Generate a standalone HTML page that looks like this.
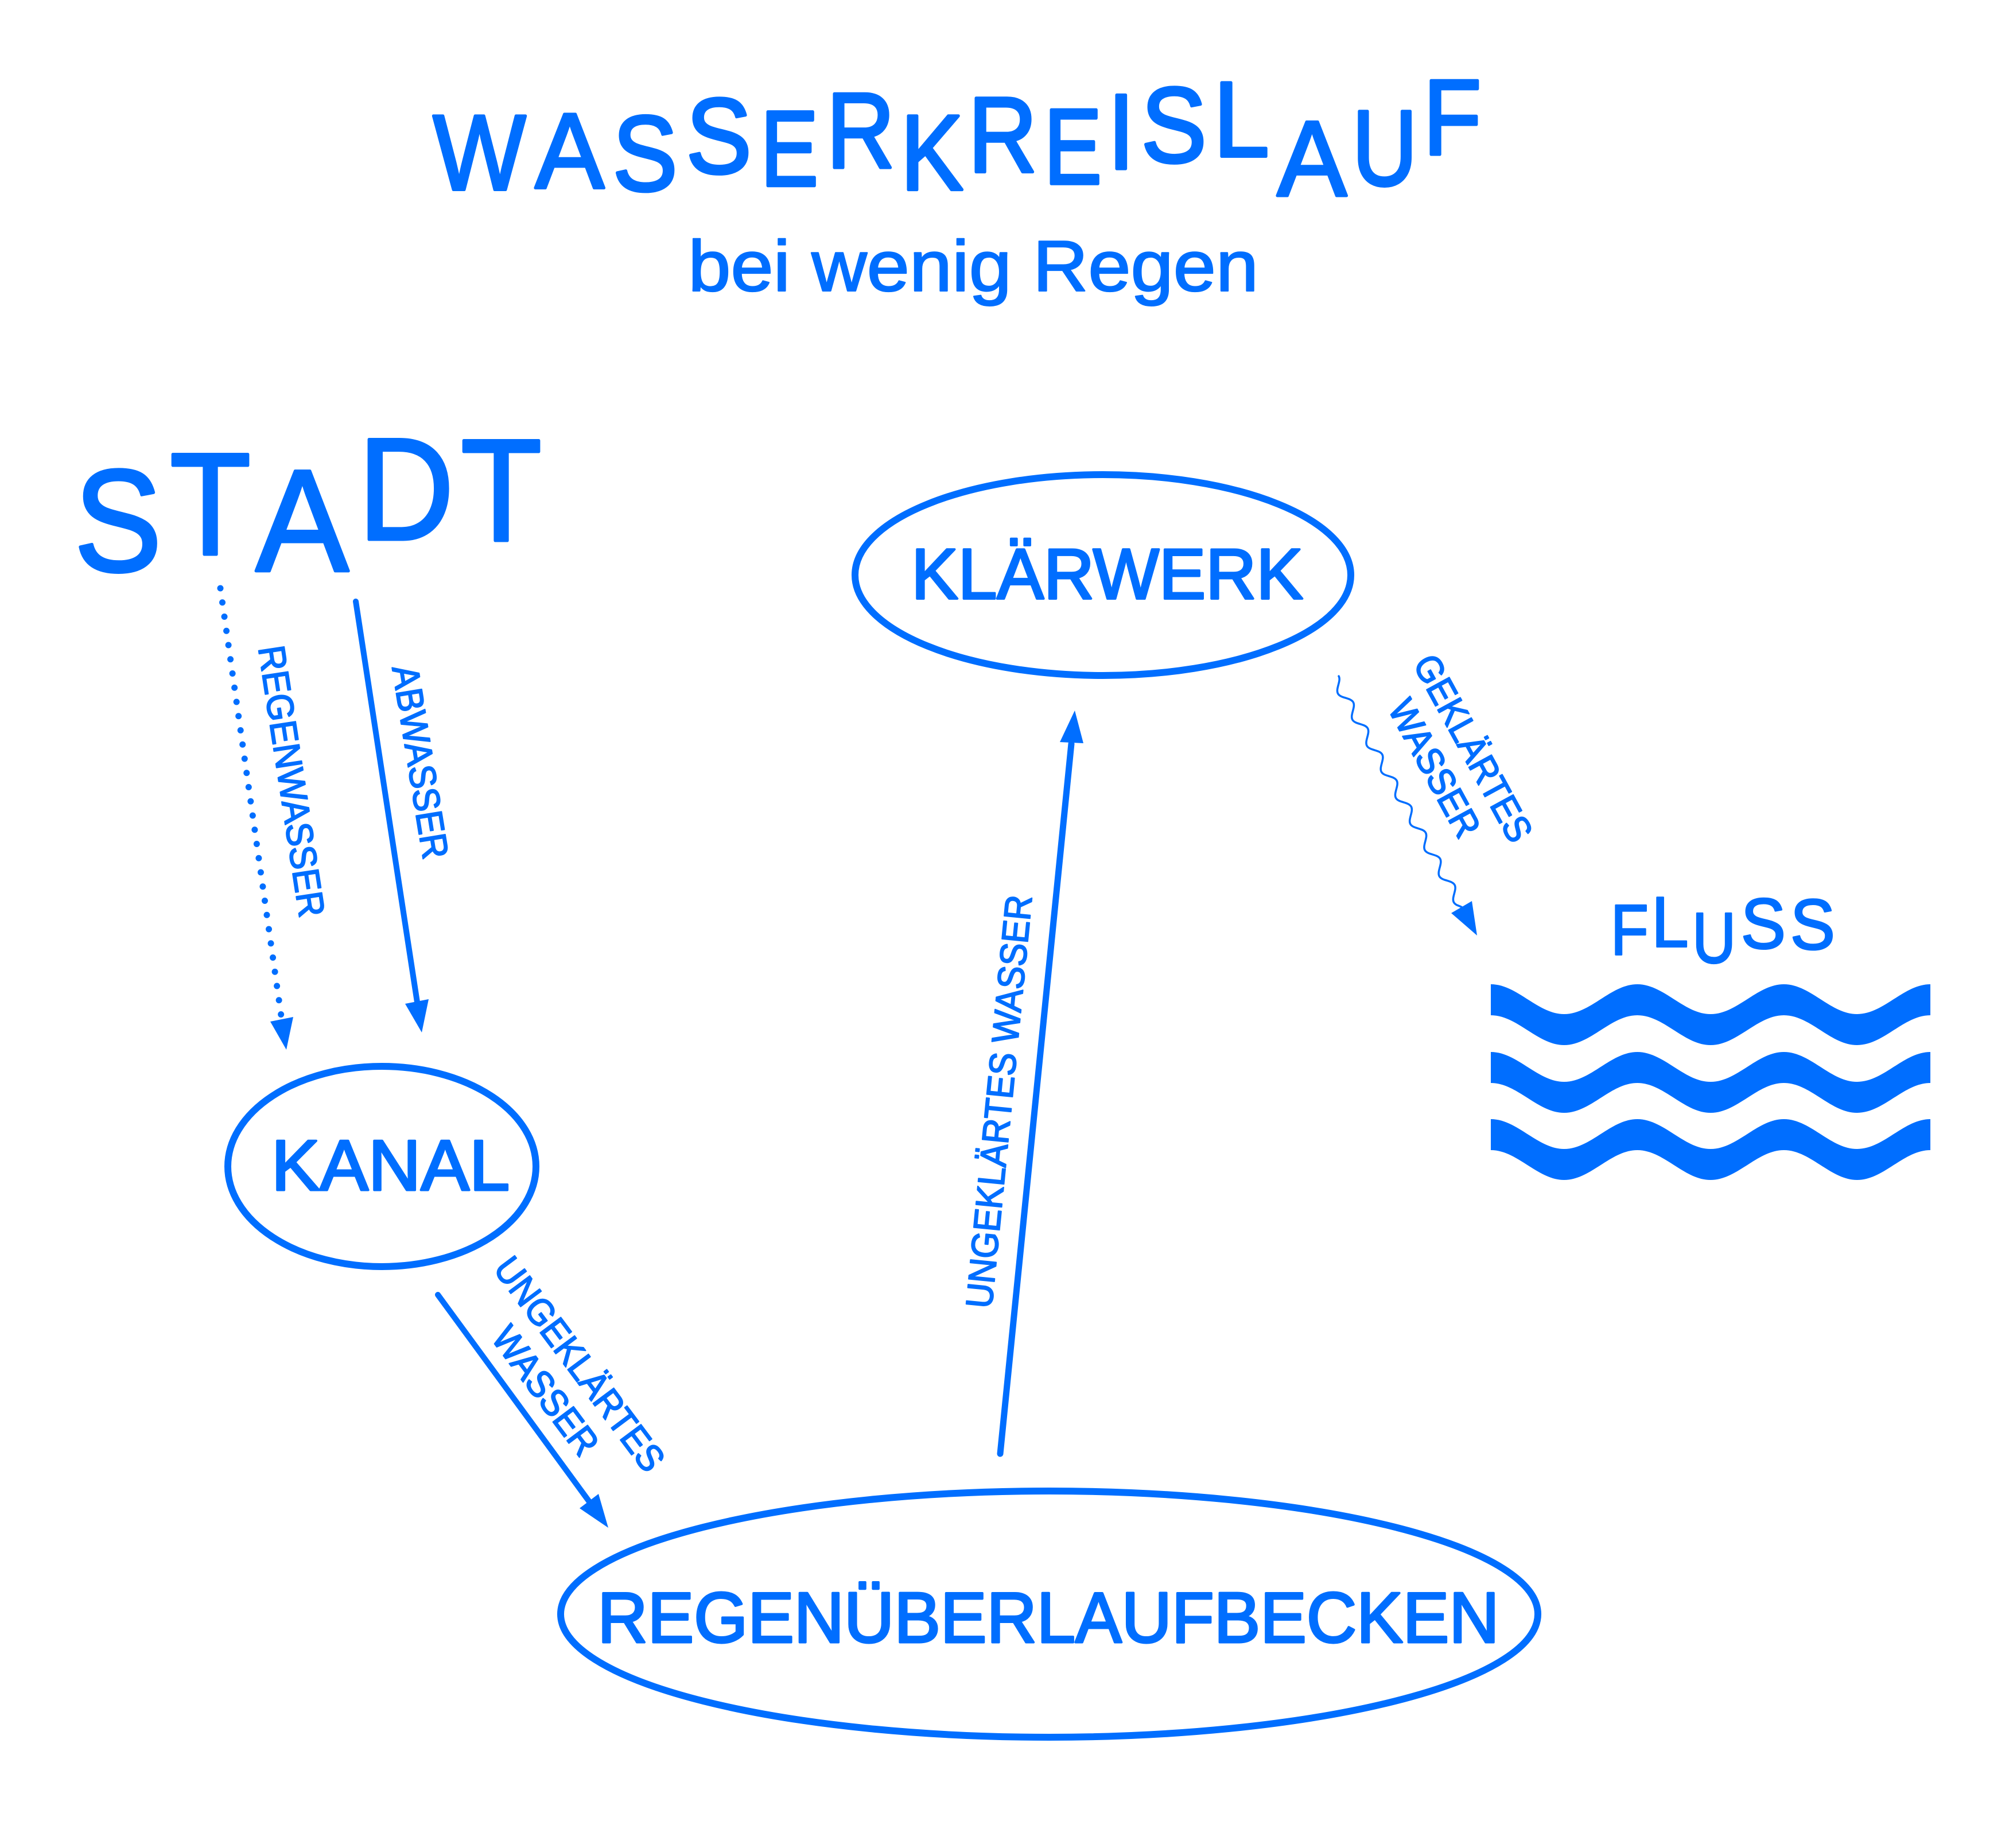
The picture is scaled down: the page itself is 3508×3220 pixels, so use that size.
<!DOCTYPE html>
<html>
<head>
<meta charset="utf-8">
<style>
html,body{margin:0;padding:0;background:#fff;}
body{width:3508px;height:3220px;overflow:hidden;}
svg{display:block;}
</style>
</head>
<body>
<svg xmlns="http://www.w3.org/2000/svg" width="3508" height="3220" viewBox="0 0 3508 3220">
<rect x="0" y="0" width="3508" height="3220" fill="#ffffff"/>

<!-- ===== TEXT ===== -->
<g fill="#006EFF" stroke="#006EFF" stroke-linejoin="round" font-family="'Liberation Sans', Arial, sans-serif">
  <!-- Title letters -->
  <g transform="translate(836,266)"><text x="0" y="67" text-anchor="middle" font-size="187" textLength="168" lengthAdjust="spacingAndGlyphs" stroke-width="5">W</text></g>
  <g transform="translate(993,263)"><text x="0" y="67" text-anchor="middle" font-size="187" textLength="126" lengthAdjust="spacingAndGlyphs" stroke-width="5">A</text></g>
  <g transform="translate(1124.5,267.5)"><text x="0" y="67" text-anchor="middle" font-size="187" textLength="105" lengthAdjust="spacingAndGlyphs" stroke-width="5">S</text></g>
  <g transform="translate(1253,237)"><text x="0" y="67" text-anchor="middle" font-size="187" textLength="106" lengthAdjust="spacingAndGlyphs" stroke-width="5">S</text></g>
  <g transform="translate(1379,259)"><text x="0" y="67" text-anchor="middle" font-size="187" textLength="88" lengthAdjust="spacingAndGlyphs" stroke-width="5">E</text></g>
  <g transform="translate(1503,227.5)"><text x="0" y="67" text-anchor="middle" font-size="187" textLength="104" lengthAdjust="spacingAndGlyphs" stroke-width="5">R</text></g>
  <g transform="translate(1630,266)"><text x="0" y="67" text-anchor="middle" font-size="187" textLength="100" lengthAdjust="spacingAndGlyphs" stroke-width="5">K</text></g>
  <g transform="translate(1750.5,235)"><text x="0" y="67" text-anchor="middle" font-size="187" textLength="105" lengthAdjust="spacingAndGlyphs" stroke-width="5">R</text></g>
  <g transform="translate(1873,255.5)"><text x="0" y="67" text-anchor="middle" font-size="187" textLength="88" lengthAdjust="spacingAndGlyphs" stroke-width="5">E</text></g>
  <g transform="translate(1954,229.5)"><text x="0" y="67" text-anchor="middle" font-size="187" textLength="22" lengthAdjust="spacingAndGlyphs" stroke-width="5">I</text></g>
  <g transform="translate(2046,218)"><text x="0" y="67" text-anchor="middle" font-size="187" textLength="106" lengthAdjust="spacingAndGlyphs" stroke-width="5">S</text></g>
  <g transform="translate(2168,208)"><text x="0" y="67" text-anchor="middle" font-size="187" textLength="84" lengthAdjust="spacingAndGlyphs" stroke-width="5">L</text></g>
  <g transform="translate(2286.5,276.5)"><text x="0" y="67" text-anchor="middle" font-size="187" textLength="127" lengthAdjust="spacingAndGlyphs" stroke-width="5">A</text></g>
  <g transform="translate(2413,258)"><text x="0" y="67" text-anchor="middle" font-size="187" textLength="96" lengthAdjust="spacingAndGlyphs" stroke-width="5">U</text></g>
  <g transform="translate(2535,204.5)"><text x="0" y="67" text-anchor="middle" font-size="187" textLength="88" lengthAdjust="spacingAndGlyphs" stroke-width="5">F</text></g>

  <!-- Subtitle -->
  <g transform="translate(1696.5,463.5)"><text x="0" y="44.5" text-anchor="middle" font-size="124.3" textLength="981" lengthAdjust="spacingAndGlyphs" stroke-width="2.5">bei wenig Regen</text></g>

  <!-- STADT -->
  <g transform="translate(206,907.5)"><text x="0" y="90" text-anchor="middle" font-size="251" textLength="140" lengthAdjust="spacingAndGlyphs" stroke-width="5">S</text></g>
  <g transform="translate(366.5,878.5)"><text x="0" y="90" text-anchor="middle" font-size="251" textLength="137" lengthAdjust="spacingAndGlyphs" stroke-width="5">T</text></g>
  <g transform="translate(527,907.5)"><text x="0" y="90" text-anchor="middle" font-size="251" textLength="168" lengthAdjust="spacingAndGlyphs" stroke-width="5">A</text></g>
  <g transform="translate(712,852.5)"><text x="0" y="90" text-anchor="middle" font-size="251" textLength="144" lengthAdjust="spacingAndGlyphs" stroke-width="5">D</text></g>
  <g transform="translate(873.5,854.5)"><text x="0" y="90" text-anchor="middle" font-size="251" textLength="137" lengthAdjust="spacingAndGlyphs" stroke-width="5">T</text></g>

  <!-- FLUSS -->
  <g transform="translate(2842.5,1620)"><text x="0" y="44.5" text-anchor="middle" font-size="124.3" textLength="57" lengthAdjust="spacingAndGlyphs" stroke-width="3">F</text></g>
  <g transform="translate(2913.5,1606.5)"><text x="0" y="44.5" text-anchor="middle" font-size="124.3" textLength="55" lengthAdjust="spacingAndGlyphs" stroke-width="3">L</text></g>
  <g transform="translate(2987,1634.5)"><text x="0" y="44.5" text-anchor="middle" font-size="124.3" textLength="64" lengthAdjust="spacingAndGlyphs" stroke-width="3">U</text></g>
  <g transform="translate(3073,1609.5)"><text x="0" y="44.5" text-anchor="middle" font-size="124.3" textLength="72" lengthAdjust="spacingAndGlyphs" stroke-width="3">S</text></g>
  <g transform="translate(3159,1611)"><text x="0" y="44.5" text-anchor="middle" font-size="124.3" textLength="72" lengthAdjust="spacingAndGlyphs" stroke-width="3">S</text></g>

  <!-- Node labels -->
  <g transform="translate(1934,1000)"><text x="0" y="45" text-anchor="middle" font-size="125.7" textLength="676" lengthAdjust="spacingAndGlyphs" stroke-width="4">KLÄRWERK</text></g>
  <g transform="translate(684,2030.5)"><text x="0" y="45" text-anchor="middle" font-size="125.7" textLength="406" lengthAdjust="spacingAndGlyphs" stroke-width="4">KANAL</text></g>
  <g transform="translate(1827.5,2818.5)"><text x="0" y="45" text-anchor="middle" font-size="125.7" textLength="1557" lengthAdjust="spacingAndGlyphs" stroke-width="4">REGENÜBERLAUFBECKEN</text></g>

  <!-- Connector labels -->
  <g transform="translate(508.5,1362.5) rotate(81.3)"><text x="0" y="23.5" text-anchor="middle" font-size="65.6" textLength="472" lengthAdjust="spacingAndGlyphs" stroke-width="2">REGENWASSER</text></g>
  <g transform="translate(732.5,1326.5) rotate(80.8)"><text x="0" y="23.5" text-anchor="middle" font-size="65.6" textLength="340" lengthAdjust="spacingAndGlyphs" stroke-width="2">ABWASSER</text></g>
  <g transform="translate(1741,1918.5) rotate(-84.4)"><text x="0" y="23.5" text-anchor="middle" font-size="65.6" textLength="718" lengthAdjust="spacingAndGlyphs" stroke-width="2">UNGEKLÄRTES WASSER</text></g>
  <g transform="translate(1010.8,2377.5) rotate(53.2)"><text x="0" y="23.5" text-anchor="middle" font-size="65.6" textLength="443" lengthAdjust="spacingAndGlyphs" stroke-width="2">UNGEKLÄRTES</text></g>
  <g transform="translate(950,2422) rotate(53.2)"><text x="0" y="23.5" text-anchor="middle" font-size="65.6" textLength="262" lengthAdjust="spacingAndGlyphs" stroke-width="2">WASSER</text></g>
  <g transform="translate(2567.5,1304) rotate(61.4)"><text x="0" y="23.5" text-anchor="middle" font-size="65.6" textLength="357" lengthAdjust="spacingAndGlyphs" stroke-width="2">GEKLÄRTES</text></g>
  <g transform="translate(2499.6,1337.5) rotate(61.4)"><text x="0" y="23.5" text-anchor="middle" font-size="65.6" textLength="262" lengthAdjust="spacingAndGlyphs" stroke-width="2">WASSER</text></g>
</g>

<!-- ===== ELLIPSES ===== -->
<g fill="none" stroke="#006EFF" stroke-width="12">
  <ellipse cx="1922" cy="1002" rx="432" ry="175"/>
  <ellipse cx="665.5" cy="2032.5" rx="268.5" ry="174.5"/>
  <ellipse cx="1828.5" cy="2812.5" rx="851.5" ry="214.5"/>
</g>

<!-- ===== CONNECTORS ===== -->
<g fill="none" stroke="#006EFF" stroke-linecap="round">
  <!-- Regenwasser dotted -->
  <path d="M384,1025 L490,1770" stroke-width="11" stroke-dasharray="0 25"/>
  <!-- Abwasser -->
  <path d="M620,1048 L727,1746" stroke-width="10"/>
  <!-- Kanal -> Becken -->
  <path d="M763,2256 L1028,2618" stroke-width="10"/>
  <!-- Becken -> Klärwerk -->
  <path d="M1743,2533 L1867,1296" stroke-width="11"/>
  <!-- Klärwerk -> Fluss squiggle -->
  <g transform="translate(2326,1182) rotate(60.96)">
    <path stroke-width="3.5" d="M0,-8 C9.45,-8 16.55,8 26,8 C35.45,8 42.55,-8 52,-8 C61.45,-8 68.55,8 78,8 C87.45,8 94.55,-8 104,-8 C113.45,-8 120.55,8 130,8 C139.45,8 146.55,-8 156,-8 C165.45,-8 172.55,8 182,8 C191.45,8 198.55,-8 208,-8 C217.45,-8 224.55,8 234,8 C243.45,8 250.55,-8 260,-8 C269.45,-8 276.55,8 286,8 C295.45,8 302.55,-8 312,-8 C321.45,-8 328.55,8 338,8 C347.45,8 354.55,-8 364,-8 C373.45,-8 380.55,8 390,8 C399.45,8 406.55,-8 416,-8 C425.45,-8 432.55,8 442,8 C448,8 452,2 456,0"/>
  </g>
</g>

<!-- ===== ARROWHEADS ===== -->
<g fill="#006EFF">
  <polygon points="499,1829 471,1780 511,1772"/>
  <polygon points="735,1799 706,1749 747,1741"/>
  <polygon points="1060,2662 1010,2628 1043,2603"/>
  <polygon points="1873,1238 1847,1293 1888,1295"/>
  <polygon points="2574,1630 2529,1591 2565,1570"/>
</g>

<!-- ===== WAVES ===== -->
<g fill="#006EFF">
  <path transform="translate(0,1715)" d="M2598,0 C2644.4,0 2679.3,52 2725.67,52 C2772.1,52 2806.9,0 2853.33,0 C2899.7,0 2934.6,52 2981,52 C3027.4,52 3062.3,0 3108.67,0 C3155.1,0 3189.9,52 3236.33,52 C3282.7,52 3317.6,0 3364,0 L3364,54 C3317.6,54 3282.7,106 3236.33,106 C3189.9,106 3155.1,54 3108.67,54 C3062.3,54 3027.4,106 2981,106 C2934.6,106 2899.7,54 2853.33,54 C2806.9,54 2772.1,106 2725.67,106 C2679.3,106 2644.4,54 2598,54 Z"/>
  <path transform="translate(0,1833)" d="M2598,0 C2644.4,0 2679.3,52 2725.67,52 C2772.1,52 2806.9,0 2853.33,0 C2899.7,0 2934.6,52 2981,52 C3027.4,52 3062.3,0 3108.67,0 C3155.1,0 3189.9,52 3236.33,52 C3282.7,52 3317.6,0 3364,0 L3364,54 C3317.6,54 3282.7,106 3236.33,106 C3189.9,106 3155.1,54 3108.67,54 C3062.3,54 3027.4,106 2981,106 C2934.6,106 2899.7,54 2853.33,54 C2806.9,54 2772.1,106 2725.67,106 C2679.3,106 2644.4,54 2598,54 Z"/>
  <path transform="translate(0,1950)" d="M2598,0 C2644.4,0 2679.3,52 2725.67,52 C2772.1,52 2806.9,0 2853.33,0 C2899.7,0 2934.6,52 2981,52 C3027.4,52 3062.3,0 3108.67,0 C3155.1,0 3189.9,52 3236.33,52 C3282.7,52 3317.6,0 3364,0 L3364,54 C3317.6,54 3282.7,106 3236.33,106 C3189.9,106 3155.1,54 3108.67,54 C3062.3,54 3027.4,106 2981,106 C2934.6,106 2899.7,54 2853.33,54 C2806.9,54 2772.1,106 2725.67,106 C2679.3,106 2644.4,54 2598,54 Z"/>
</g>
</svg>

<script>
(function(){
  try{
    var c=document.createElement('canvas').getContext('2d');
    c.font='100px "Liberation Sans"';
    var capH=c.measureText('H').actualBoundingBoxAscent;
    if(!(capH>0)) return;
    var texts=document.querySelectorAll('svg text');
    for(var i=0;i<texts.length;i++){
      var t=texts[i];
      var fs=parseFloat(t.getAttribute('font-size'));
      var H=fs*0.716;
      var L=parseFloat(t.getAttribute('textLength'));
      var e=parseFloat(t.getAttribute('stroke-width')||'0');
      var m=c.measureText(t.textContent);
      var l=-m.actualBoundingBoxLeft, r=m.actualBoundingBoxRight;
      if(!(r-l>0)) continue;
      var sx=(L-e)/(r-l), sy=(H-e)/capH;
      t.setAttribute('x','0');
      t.setAttribute('y','0');
      t.setAttribute('font-size','100');
      t.removeAttribute('textLength');
      t.removeAttribute('lengthAdjust');
      t.setAttribute('text-anchor','start');
      t.setAttribute('transform','scale('+sx+','+sy+') translate('+(-(l+r)/2)+','+(capH/2)+')');
      if(e>0) t.setAttribute('stroke-width', String(e/Math.sqrt(sx*sy)));
    }
  }catch(err){}
})();
</script>
</body>
</html>
